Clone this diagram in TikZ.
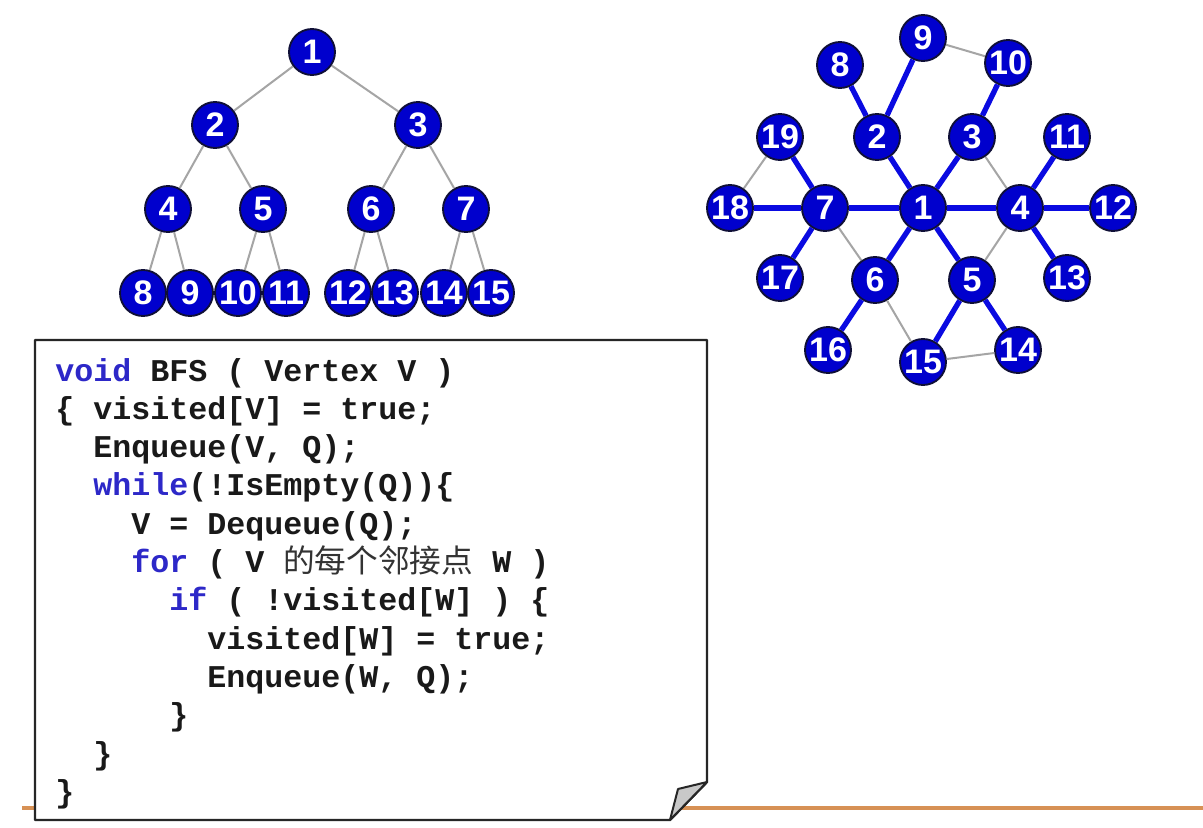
\documentclass[tikz,border=0pt]{standalone}
\usepackage{fontspec}
\setmainfont{Liberation Sans}
\newfontfamily\codefont{Liberation Mono}[WordSpace={1,0,0}]
\newfontfamily\cjk{Noto Sans CJK SC}
\definecolor{nodeblue}{RGB}{0,0,205}
\definecolor{nodeedge}{RGB}{15,15,55}
\definecolor{edgeblue}{RGB}{10,10,225}
\definecolor{edgegray}{RGB}{165,165,165}
\definecolor{kw}{RGB}{45,40,200}
\definecolor{codetext}{RGB}{25,25,25}
\definecolor{orangeline}{RGB}{215,145,85}
\definecolor{foldgray}{RGB}{200,200,200}
\tikzset{
  vtx/.style={circle, fill=nodeblue, draw=nodeedge, line width=1.4pt, minimum size=34.5pt, inner sep=0pt,
    text=white, font=\fontsize{25.5pt}{25.5pt}\selectfont\bfseries},
  thinedge/.style={draw=edgegray, line width=1.5pt},
  treeedge/.style={draw=edgeblue, line width=4pt},
  codeline/.style={anchor=base west, inner sep=0pt, text=codetext,
    font=\codefont\bfseries\fontsize{23.75pt}{28pt}\selectfont},
  box/.style={draw=black!85, line width=1.8pt, fill=white, line join=round},
  foldpart/.style={draw=black!85, line width=1.5pt, fill=foldgray, line join=round}
}
\newcommand{\kwd}[1]{\textcolor{kw}{#1}}
\begin{document}
\begin{tikzpicture}[x=0.75pt,y=-0.75pt]
\useasboundingbox (0,0) rectangle (1203,828);
\fill[white] (0,0) rectangle (1203,828);

% ---------- binary tree ----------
\node[vtx] (t1) at (312,52) {1};
\node[vtx] (t2) at (215,125) {2};
\node[vtx] (t3) at (418,125) {3};
\node[vtx] (t4) at (168,209) {4};
\node[vtx] (t5) at (263,209) {5};
\node[vtx] (t6) at (371,209) {6};
\node[vtx] (t7) at (466,209) {7};
\node[vtx] (t8) at (143,293) {8};
\node[vtx] (t9) at (190,293) {9};
\node[vtx] (t10) at (238,293) {10};
\node[vtx] (t11) at (286,293) {11};
\node[vtx] (t12) at (348,293) {12};
\node[vtx] (t13) at (395,293) {13};
\node[vtx] (t14) at (444,293) {14};
\node[vtx] (t15) at (491,293) {15};
\draw[thinedge] (t1) -- (t2);
\draw[thinedge] (t1) -- (t3);
\draw[thinedge] (t2) -- (t4);
\draw[thinedge] (t2) -- (t5);
\draw[thinedge] (t3) -- (t6);
\draw[thinedge] (t3) -- (t7);
\draw[thinedge] (t4) -- (t8);
\draw[thinedge] (t4) -- (t9);
\draw[thinedge] (t5) -- (t10);
\draw[thinedge] (t5) -- (t11);
\draw[thinedge] (t6) -- (t12);
\draw[thinedge] (t6) -- (t13);
\draw[thinedge] (t7) -- (t14);
\draw[thinedge] (t7) -- (t15);

% ---------- graph ----------
\node[vtx] (g1) at (923,208) {1};
\node[vtx] (g2) at (877,137) {2};
\node[vtx] (g3) at (972,137) {3};
\node[vtx] (g4) at (1020,208) {4};
\node[vtx] (g5) at (972,280) {5};
\node[vtx] (g6) at (875,280) {6};
\node[vtx] (g7) at (825,208) {7};
\node[vtx] (g8) at (840,65) {8};
\node[vtx] (g9) at (923,38) {9};
\node[vtx] (g10) at (1008,63) {10};
\node[vtx] (g11) at (1067,137) {11};
\node[vtx] (g12) at (1113,208) {12};
\node[vtx] (g13) at (1067,278) {13};
\node[vtx] (g14) at (1018,350) {14};
\node[vtx] (g15) at (923,362) {15};
\node[vtx] (g16) at (828,350) {16};
\node[vtx] (g17) at (780,278) {17};
\node[vtx] (g18) at (730,208) {18};
\node[vtx] (g19) at (780,137) {19};
\draw[thinedge] (g9) -- (g10);
\draw[thinedge] (g3) -- (g4);
\draw[thinedge] (g4) -- (g5);
\draw[thinedge] (g7) -- (g6);
\draw[thinedge] (g6) -- (g15);
\draw[thinedge] (g15) -- (g14);
\draw[thinedge] (g18) -- (g19);
\draw[treeedge] (g1) -- (g2);
\draw[treeedge] (g1) -- (g3);
\draw[treeedge] (g1) -- (g4);
\draw[treeedge] (g1) -- (g5);
\draw[treeedge] (g1) -- (g6);
\draw[treeedge] (g1) -- (g7);
\draw[treeedge] (g2) -- (g8);
\draw[treeedge] (g2) -- (g9);
\draw[treeedge] (g3) -- (g10);
\draw[treeedge] (g4) -- (g11);
\draw[treeedge] (g4) -- (g12);
\draw[treeedge] (g4) -- (g13);
\draw[treeedge] (g5) -- (g14);
\draw[treeedge] (g5) -- (g15);
\draw[treeedge] (g6) -- (g16);
\draw[treeedge] (g7) -- (g17);
\draw[treeedge] (g7) -- (g18);
\draw[treeedge] (g7) -- (g19);

% ---------- slide rule line ----------
\draw[orangeline, line width=2.6pt] (22,808) -- (1203,808);

% ---------- code box ----------
\draw[box] (35,340) -- (707,340) -- (707,782) -- (670,820) -- (35,820) -- cycle;
\draw[foldpart] (707,782) -- (678,789) -- (670,820) -- cycle;

\node[codeline] (c1) at (55,381) {\kwd{void} BFS ( Vertex V )};
\node[codeline] (c2) at (55,419.3) {\{ visited[V] = true;};
\node[codeline] (c3) at (93,457.6) {Enqueue(V, Q);};
\node[codeline] (c4) at (93,495.9) {\kwd{while}(!IsEmpty(Q))\{};
\node[codeline] (c5) at (131,534.2) {V = Dequeue(Q);};
\node[codeline] (c6) at (131,572.5) {\kwd{for} ( V {\cjk\mdseries\color{black!80}的每个邻接点} W )};
\node[codeline] (c7) at (169,610.8) {\kwd{if} ( !visited[W] ) \{};
\node[codeline] (c8) at (207,649.1) {visited[W] = true;};
\node[codeline] (c9) at (207,687.4) {Enqueue(W, Q);};
\node[codeline] (c10) at (169,725.7) {\}};
\node[codeline] (c11) at (93,764) {\}};
\node[codeline] (c12) at (55,802.3) {\}};
\end{tikzpicture}
\end{document}
